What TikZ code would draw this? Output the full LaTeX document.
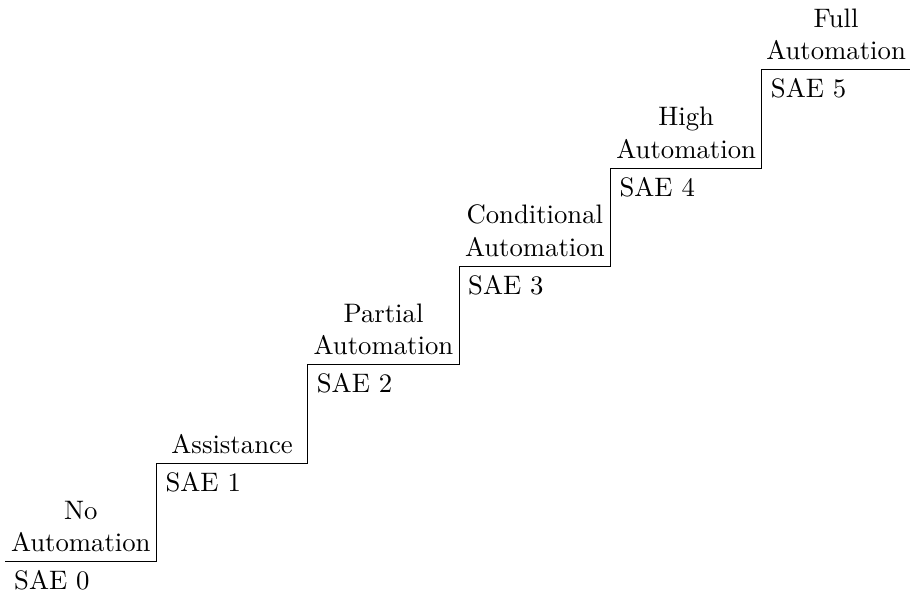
\documentclass[tikz,border=0pt]{standalone}
\usepackage{tikz}
\usetikzlibrary{
    positioning,
    calc
}
\tikzset{
    % --- Staircase outline ---
    stair/.style = {
        draw, thin, line join=miter
    },
    % --- Level name sitting on a step ---
    level name/.style = {
        anchor=south, align=center,
        inner sep=3.5pt
    },
    % --- SAE tag under the step edge ---
    sae tag/.style = {
        anchor=north west
    }
}

\begin{document}
\begin{tikzpicture}[font=\fontsize{10.4pt}{12.7pt}\selectfont]

\useasboundingbox (0,0) rectangle (12.46,8.165);

% ---------------------------------------------------------
% Step corners
% ---------------------------------------------------------
\coordinate (S0) at (0.07, 0.486);
\coordinate (S1) at (2.14, 1.831);
\coordinate (S2) at (4.21, 3.176);
\coordinate (S3) at (6.28, 4.521);
\coordinate (S4) at (8.35, 5.866);
\coordinate (S5) at (10.42, 7.211);
\coordinate (End) at (12.45, 7.211);

% ---------------------------------------------------------
% Staircase
% ---------------------------------------------------------
\draw[stair] (S0) -| (S1) -| (S2) -| (S3) -| (S4) -| (S5) -- (End);

% ---------------------------------------------------------
% Level names
% ---------------------------------------------------------
\node[level name] (Name0) at ($(S0)!0.5!(S1 |- S0)$) {No\\Automation};
\node[level name] (Name1) at ($(S1)!0.5!(S2 |- S1)$) {Assistance};
\node[level name] (Name2) at ($(S2)!0.5!(S3 |- S2)$) {Partial\\Automation};
\node[level name] (Name3) at ($(S3)!0.5!(S4 |- S3)$) {Conditional\\Automation};
\node[level name] (Name4) at ($(S4)!0.5!(S5 |- S4)$) {High\\Automation};
\node[level name] (Name5) at ($(S5)!0.5!(End)$) {Full\\Automation};

% ---------------------------------------------------------
% SAE tags
% ---------------------------------------------------------
\node[sae tag] (Sae0) at (S0) {SAE 0};
\node[sae tag] (Sae1) at (S1) {SAE 1};
\node[sae tag] (Sae2) at (S2) {SAE 2};
\node[sae tag] (Sae3) at (S3) {SAE 3};
\node[sae tag] (Sae4) at (S4) {SAE 4};
\node[sae tag] (Sae5) at (S5) {SAE 5};

\end{tikzpicture}
\end{document}
